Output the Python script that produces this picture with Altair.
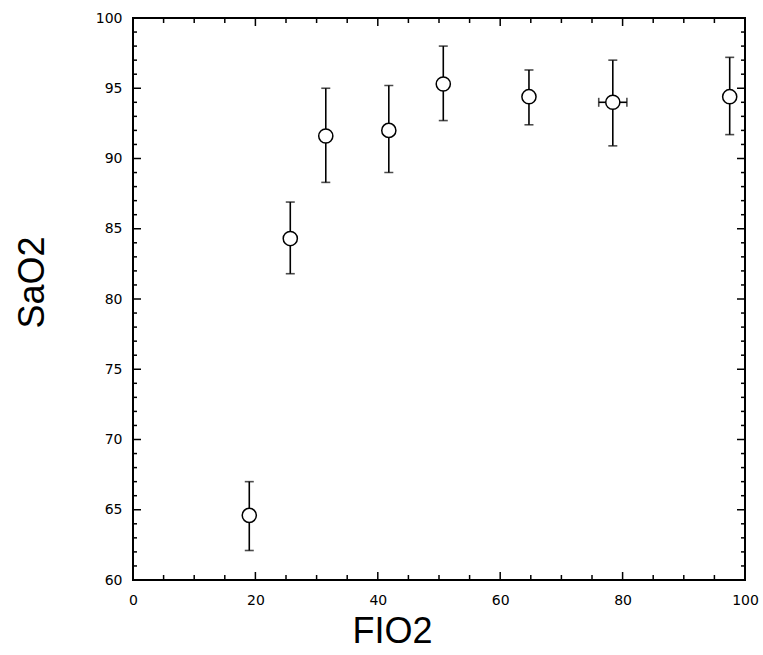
import altair as alt
import pandas as pd

# Data
fio2 = [19.0, 25.7, 31.5, 41.8, 50.7, 64.7, 78.4, 97.5]
sao2 = [64.6, 84.3, 91.6, 92.0, 95.3, 94.4, 94.0, 94.4]
sao2_hi = [67.0, 86.9, 95.0, 95.2, 98.0, 96.3, 97.0, 97.2]
sao2_lo = [62.1, 81.8, 88.3, 89.0, 92.7, 92.4, 90.9, 91.7]

# horizontal error bar (only one point shows it)
hx_center = [78.4]
hx_y = [94.0]
hx_lo = [76.1]
hx_hi = [80.7]

x_labels = [0, 20, 40, 60, 80, 100]
x_minor = [5, 10, 15, 25, 30, 35, 45, 50, 55, 65, 70, 75, 85, 90, 95]
y_labels = [60, 65, 70, 75, 80, 85, 90, 95, 100]
y_minor = [v for v in range(61, 100) if v % 5 != 0]

W, H = 612, 562
xs = alt.Scale(domain=[0, 100], nice=False, zero=False)
ys = alt.Scale(domain=[60, 100], nice=False, zero=False)

df = pd.DataFrame({"fio2": fio2, "sao2": sao2, "hi": sao2_hi, "lo": sao2_lo})
dh = pd.DataFrame({"x": hx_center, "y": hx_y, "xlo": hx_lo, "xhi": hx_hi})

FONT = "DejaVu Sans"
TFONT = "Liberation Sans"

x_axis = alt.Axis(values=x_labels, ticks=False, domain=False, grid=False,
                  labelFont=FONT, labelFontSize=14, labelColor="black",
                  labelPadding=13, labelFlush=False, labelBound=False,
                  title="FIO2", titleFont=TFONT, titleFontSize=36,
                  titleFontWeight="normal", titleColor="black",
                  titleX=259, titleY=62, titleBaseline="alphabetic",
                  titleAnchor="middle")
y_axis = alt.Axis(values=y_labels, ticks=False, domain=False, grid=False,
                  labelFont=FONT, labelFontSize=14, labelColor="black",
                  labelPadding=11, labelFlush=False, labelBound=False,
                  title="SaO2", titleFont=TFONT, titleFontSize=36,
                  titleFontWeight="normal", titleColor="black",
                  titleAngle=270, titleX=-90, titleY=264,
                  titleBaseline="alphabetic", titleAnchor="middle")


def X(f):
    return alt.X(f, scale=xs, axis=x_axis)


def Y(f):
    return alt.Y(f, scale=ys, axis=y_axis)


bars = alt.Chart(df).mark_rule(color="black", strokeWidth=1.6).encode(
    x=X("fio2:Q"), y=Y("lo:Q"), y2="hi:Q")
cap_hi = alt.Chart(df).mark_tick(orient="horizontal", size=9, thickness=1.6, color="black").encode(
    x=X("fio2:Q"), y=Y("hi:Q"))
cap_lo = alt.Chart(df).mark_tick(orient="horizontal", size=9, thickness=1.6, color="black").encode(
    x=X("fio2:Q"), y=Y("lo:Q"))
hbar = alt.Chart(dh).mark_rule(color="black", strokeWidth=1.6).encode(
    x=X("xlo:Q"), x2="xhi:Q", y=Y("y:Q"))
hcap_lo = alt.Chart(dh).mark_tick(orient="vertical", size=9, thickness=1.6, color="black").encode(
    x=X("xlo:Q"), y=Y("y:Q"))
hcap_hi = alt.Chart(dh).mark_tick(orient="vertical", size=9, thickness=1.6, color="black").encode(
    x=X("xhi:Q"), y=Y("y:Q"))
pts = alt.Chart(df).mark_point(shape="circle", filled=True, fill="white", stroke="black",
                               strokeWidth=1.5, size=200, opacity=1).encode(
    x=X("fio2:Q"), y=Y("sao2:Q"))


def xticks(vals, length):
    d = pd.DataFrame({"t": vals})
    bottom = alt.Chart(d).mark_rule(color="black", strokeWidth=1.5).encode(
        x=X("t:Q"), y=alt.value(H), y2=alt.value(H - length))
    top = alt.Chart(d).mark_rule(color="black", strokeWidth=1.5).encode(
        x=X("t:Q"), y=alt.value(0), y2=alt.value(length))
    return [bottom, top]


def yticks(vals, length):
    d = pd.DataFrame({"t": vals})
    left = alt.Chart(d).mark_rule(color="black", strokeWidth=1.5).encode(
        y=Y("t:Q"), x=alt.value(0), x2=alt.value(length))
    right = alt.Chart(d).mark_rule(color="black", strokeWidth=1.5).encode(
        y=Y("t:Q"), x=alt.value(W), x2=alt.value(W - length))
    return [left, right]


tick_layers = xticks(x_labels, 8) + xticks(x_minor, 5) + yticks(y_labels, 8) + yticks(y_minor, 4)

chart = alt.layer(bars, cap_hi, cap_lo, hbar, hcap_lo, hcap_hi, pts, *tick_layers).properties(
    width=W, height=H,
    autosize=alt.AutoSizeParams(type="none"),
    padding={"left": 133, "top": 18, "right": 18, "bottom": 75},
    background="white",
).configure_view(stroke="black", strokeWidth=2)

chart.save("out.html", embed_options={"renderer": "svg", "actions": False})
